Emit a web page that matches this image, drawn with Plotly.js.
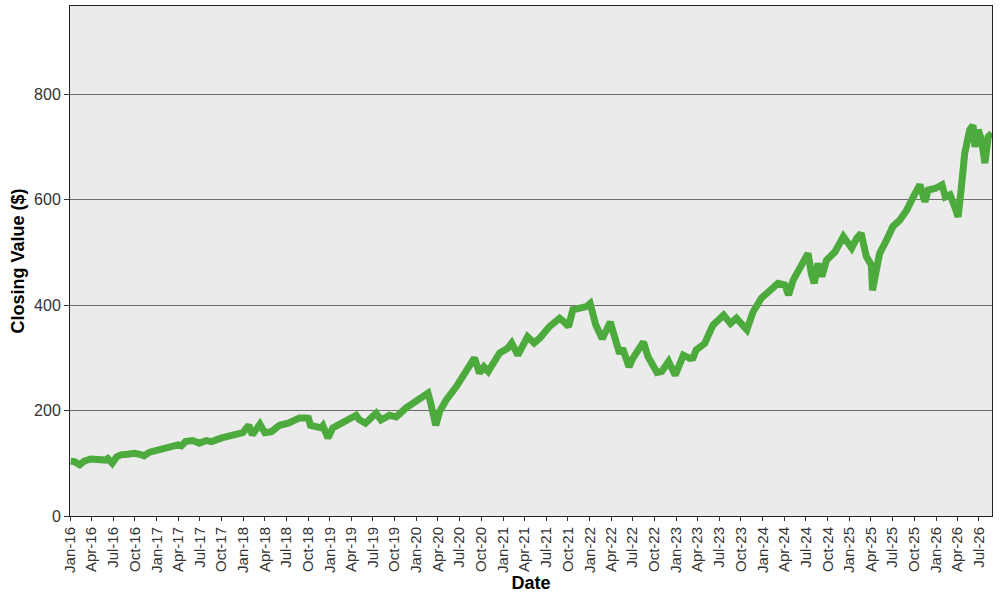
<!DOCTYPE html>
<html>
<head>
<meta charset="utf-8">
<script src="https://cdn.plot.ly/plotly-3.0.1.min.js"></script>
<style>html,body{margin:0;padding:0;background:#fff;}#chart{width:1000px;height:600px;}</style>
</head>
<body>
<div id="chart"></div>
<script>
const dates = [
"2016-01-04","2016-01-20","2016-02-11","2016-03-01","2016-03-28","2016-04-20","2016-05-29","2016-06-08","2016-06-27","2016-07-15","2016-08-02","2016-08-30","2016-09-30","2016-10-29","2016-11-08","2016-12-02","2016-12-20",
"2017-01-02","2017-02-01","2017-03-01","2017-04-01","2017-04-15","2017-05-02","2017-06-01","2017-06-30","2017-07-29","2017-08-20","2017-10-02","2017-11-01","2017-11-30","2017-12-30",
"2018-01-24","2018-02-08","2018-03-12","2018-04-02","2018-04-30","2018-06-03","2018-07-10","2018-08-01","2018-08-26","2018-09-20","2018-10-03","2018-10-11","2018-10-28","2018-11-26","2018-12-03","2018-12-24",
"2019-01-13","2019-02-25","2019-04-22","2019-05-04","2019-05-31","2019-07-15","2019-08-05","2019-09-10","2019-10-08","2019-11-19",
"2020-01-01","2020-02-19","2020-03-01","2020-03-23","2020-04-08","2020-05-06","2020-06-17","2020-07-15","2020-09-02","2020-09-23","2020-10-12","2020-10-30","2020-12-17",
"2021-01-20","2021-02-06","2021-03-04","2021-04-14","2021-05-12","2021-06-04","2021-07-15","2021-08-27","2021-09-15","2021-10-04","2021-10-22","2021-11-20","2021-12-18",
"2022-01-03","2022-01-12","2022-01-27","2022-02-23","2022-03-29","2022-04-16","2022-05-07","2022-05-20","2022-06-16","2022-07-02","2022-08-16","2022-09-04","2022-09-30","2022-10-12","2022-11-01","2022-11-30","2022-12-28",
"2023-01-31","2023-02-28","2023-03-13","2023-03-26","2023-05-01","2023-06-05","2023-07-20","2023-08-18","2023-09-12","2023-10-26","2023-11-01","2023-11-21","2023-12-26",
"2024-02-01","2024-03-05","2024-04-03","2024-04-19","2024-05-08","2024-06-05","2024-07-10","2024-07-24","2024-08-05","2024-08-21","2024-09-06","2024-09-26","2024-11-01","2024-12-06","2024-12-27",
"2025-01-10","2025-02-01","2025-02-19","2025-03-13","2025-04-03","2025-04-08","2025-04-24","2025-05-08","2025-06-06","2025-07-03","2025-08-01","2025-08-30","2025-09-27","2025-10-25","2025-11-15","2025-11-29","2025-12-28",
"2026-01-26","2026-02-09","2026-03-01","2026-03-21","2026-04-04","2026-04-18","2026-05-02","2026-05-23","2026-06-06","2026-06-14","2026-06-28","2026-07-12","2026-07-26","2026-08-09","2026-08-24"
];
const closingValues = [
104,103,97,104,108,107,106,109,100,112,116,117,119,116,114,121,123,
125,128,131,135,133,141,143,138,143,141,148,152,155,158,
172,154,174,158,160,172,176,182,186,186,185,172,169,167,171,148,
167,176,191,183,176,195,182,191,188,205,
220,233,215,172,198,220,245,264,300,271,283,274,309,
318,328,305,340,328,337,359,375,368,359,391,394,397,
403,387,362,336,368,340,308,318,283,299,330,302,285,272,274,293,267,
305,299,300,315,327,362,381,365,375,353,359,387,413,
428,441,438,419,447,473,498,460,441,479,454,485,501,530,517,
508,527,536,492,476,428,460,498,523,549,561,580,605,628,596,618,621,
628,605,609,586,567,624,688,732,741,700,732,713,669,719,726
];
const tickStart = "2016-01-01";
const xRange = ["2016-01-01", "2026-08-25"];
const yTicks = [0, 200, 400, 600, 800];

const font = "Arial, 'Liberation Sans', sans-serif";

Plotly.newPlot("chart", [{
  x: dates,
  y: closingValues,
  type: "scatter",
  mode: "lines",
  line: {color: "#4daa3d", width: 7},
  hoverinfo: "x+y"
}], {
  width: 1000,
  height: 600,
  margin: {l: 70, r: 8, t: 6, b: 84},
  paper_bgcolor: "#ffffff",
  plot_bgcolor: "#ebebeb",
  showlegend: false,
  xaxis: {
    type: "date",
    range: xRange,
    tick0: tickStart,
    dtick: "M3",
    tickformat: "%b-%y",
    tickangle: -90,
    ticks: "outside",
    ticklen: 4,
    tickcolor: "#333",
    showgrid: false,
    zeroline: false,
    showline: true,
    linecolor: "#222",
    linewidth: 1,
    mirror: true,
    tickfont: {family: font, size: 15, color: "#333"},
    title: {text: "<b>Date</b>", font: {family: font, size: 18, color: "#000"}, standoff: 4}
  },
  yaxis: {
    range: [0, 967],
    tickvals: yTicks,
    ticks: "outside",
    ticklen: 5,
    tickcolor: "#333",
    showgrid: true,
    gridcolor: "#6e6e6e",
    gridwidth: 1,
    zeroline: false,
    showline: true,
    linecolor: "#222",
    linewidth: 1,
    mirror: true,
    tickfont: {family: font, size: 16, color: "#333"},
    title: {text: "<b>Closing Value ($)</b>", font: {family: font, size: 18, color: "#000"}, standoff: 4}
  }
}, {displayModeBar: false, staticPlot: true});
</script>
</body>
</html>
